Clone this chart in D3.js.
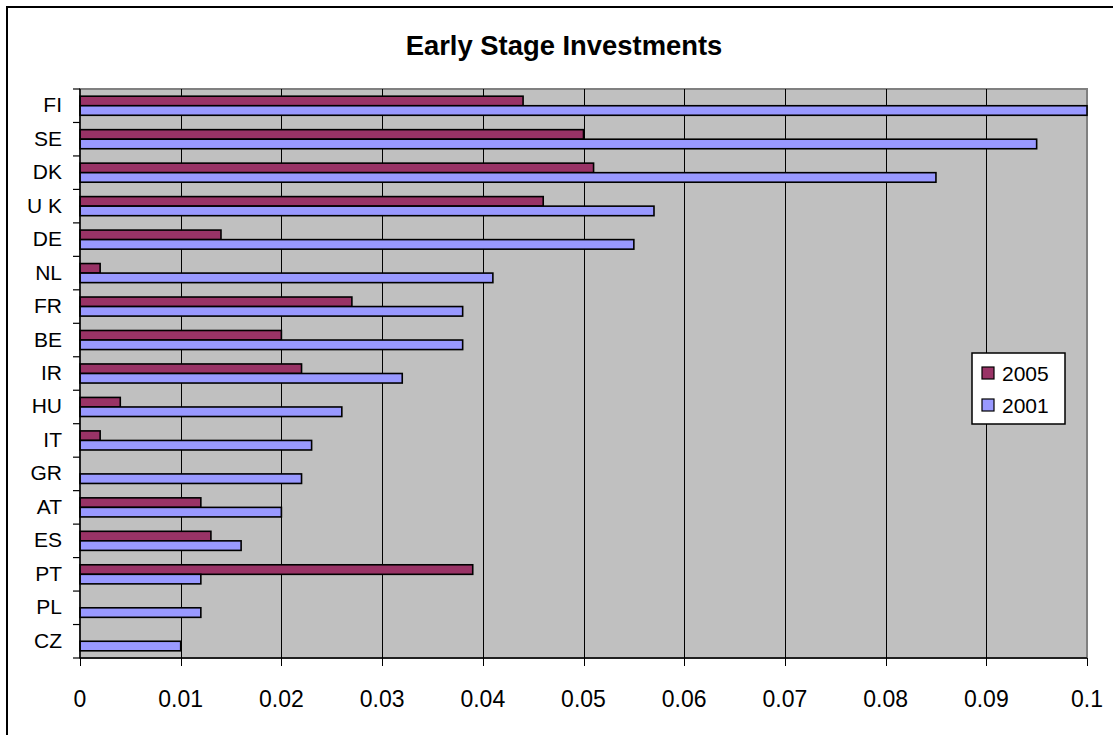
<!DOCTYPE html>
<html>
<head>
<meta charset="utf-8">
<script src="https://cdn.jsdelivr.net/npm/d3@7"></script>
<style>
  html, body { margin: 0; padding: 0; background: #fff; }
  svg { display: block; }
  text { font-family: "Liberation Sans", Arial, sans-serif; fill: #000; }
</style>
</head>
<body>
<svg id="chart" width="1113" height="735"></svg>
<script>
// Countries, top to bottom
const countries = ["FI", "SE", "DK", "U K", "DE", "NL", "FR", "BE", "IR", "HU", "IT", "GR", "AT", "ES", "PT", "PL", "CZ"];
// Early stage investment, share of GDP
const values2005 = [0.044, 0.050, 0.051, 0.046, 0.014, 0.002, 0.027, 0.020, 0.022, 0.004, 0.002, 0, 0.012, 0.013, 0.039, 0, 0];
const values2001 = [0.100, 0.095, 0.085, 0.057, 0.055, 0.041, 0.038, 0.038, 0.032, 0.026, 0.023, 0.022, 0.020, 0.016, 0.012, 0.012, 0.010];
const seriesNames = ["2005", "2001"];
const seriesColors = ["#993366", "#9999FF"];
const xTicks = [0, 0.01, 0.02, 0.03, 0.04, 0.05, 0.06, 0.07, 0.08, 0.09, 0.1];

const svg = d3.select("#chart");

// Outer chart frame
svg.append("rect")
  .attr("x", 7).attr("y", 7).attr("width", 1114).attr("height", 740)
  .attr("fill", "#fff").attr("stroke", "#000").attr("stroke-width", 2);

const plot = { left: 80, right: 1087, top: 89, bottom: 658 };

const x = d3.scaleLinear().domain([0, 0.1]).range([plot.left, plot.right]);
const y = d3.scaleBand().domain(countries).range([plot.top, plot.bottom]).padding(0);
const bw = y.bandwidth();
const inner = d3.scaleBand().domain(seriesNames).range([bw * 0.215, bw * 0.785]).padding(0);

// Plot background
svg.append("rect")
  .attr("x", plot.left).attr("y", plot.top)
  .attr("width", plot.right - plot.left).attr("height", plot.bottom - plot.top)
  .attr("fill", "#C0C0C0").attr("stroke", "#808080").attr("stroke-width", 2);

// Vertical gridlines
svg.append("g").selectAll("line")
  .data(xTicks.slice(1, -1))
  .join("line")
  .attr("x1", d => Math.round(x(d)) + 0.5).attr("x2", d => Math.round(x(d)) + 0.5)
  .attr("y1", plot.top).attr("y2", plot.bottom)
  .attr("stroke", "#000").attr("stroke-width", 1);

// Bars
const rows = countries.map((c, i) => ({ c, vals: [values2005[i], values2001[i]] }));
const groups = svg.append("g").selectAll("g")
  .data(rows).join("g")
  .attr("transform", d => `translate(0,${y(d.c)})`);

groups.selectAll("rect")
  .data(d => d.vals.map((v, k) => ({ v, s: seriesNames[k], k })).filter(e => e.v > 0))
  .join("rect")
  .attr("x", x(0))
  .attr("y", d => inner(d.s))
  .attr("width", d => x(d.v) - x(0))
  .attr("height", inner.bandwidth())
  .attr("fill", d => seriesColors[d.k])
  .attr("stroke", "#000").attr("stroke-width", 1.6);

// Category axis
const yAxis = svg.append("g").attr("transform", `translate(${plot.left},0)`);
yAxis.append("line")
  .attr("x1", 0).attr("x2", 0).attr("y1", plot.top).attr("y2", plot.bottom)
  .attr("stroke", "#000").attr("stroke-width", 1.5);
yAxis.selectAll("line.tick")
  .data(countries.concat(["__end"]))
  .join("line").attr("class", "tick")
  .attr("x1", -7).attr("x2", 0)
  .attr("y1", (d, i) => i < countries.length ? y(d) : plot.bottom)
  .attr("y2", (d, i) => i < countries.length ? y(d) : plot.bottom)
  .attr("stroke", "#000").attr("stroke-width", 1.2);
yAxis.selectAll("text")
  .data(countries).join("text")
  .attr("x", -18)
  .attr("y", d => y(d) + bw / 2 - 1)
  .attr("text-anchor", "end")
  .attr("dominant-baseline", "central")
  .attr("font-size", 21)
  .text(d => d);

// Value axis
const xAxis = svg.append("g").attr("transform", `translate(0,${plot.bottom})`);
xAxis.append("line")
  .attr("x1", plot.left).attr("x2", plot.right).attr("y1", 0).attr("y2", 0)
  .attr("stroke", "#000").attr("stroke-width", 1.5);
xAxis.selectAll("line.tick")
  .data(xTicks).join("line").attr("class", "tick")
  .attr("x1", d => Math.round(x(d)) + 0.5).attr("x2", d => Math.round(x(d)) + 0.5)
  .attr("y1", 0).attr("y2", 8)
  .attr("stroke", "#000").attr("stroke-width", 1);
xAxis.selectAll("text")
  .data(xTicks).join("text")
  .attr("x", d => x(d))
  .attr("y", 49)
  .attr("text-anchor", "middle")
  .attr("font-size", 23)
  .text(d => d3.format("~g")(d));

// Title
svg.append("text")
  .attr("x", 564).attr("y", 55)
  .attr("text-anchor", "middle")
  .attr("font-size", 27.4).attr("font-weight", "bold")
  .text("Early Stage Investments");

// Legend
const lg = svg.append("g").attr("transform", "translate(972,353)");
lg.append("rect")
  .attr("width", 93).attr("height", 71)
  .attr("fill", "#fff").attr("stroke", "#000").attr("stroke-width", 1.5);
const items = lg.selectAll("g").data(seriesNames).join("g")
  .attr("transform", (d, i) => `translate(10,${20 + i * 32})`);
items.append("rect")
  .attr("x", 0).attr("y", -6).attr("width", 12).attr("height", 12)
  .attr("fill", (d, i) => seriesColors[i])
  .attr("stroke", "#000").attr("stroke-width", 1.2);
items.append("text")
  .attr("x", 20).attr("y", 0)
  .attr("dominant-baseline", "central")
  .attr("font-size", 21)
  .text(d => d);
</script>
</body>
</html>
